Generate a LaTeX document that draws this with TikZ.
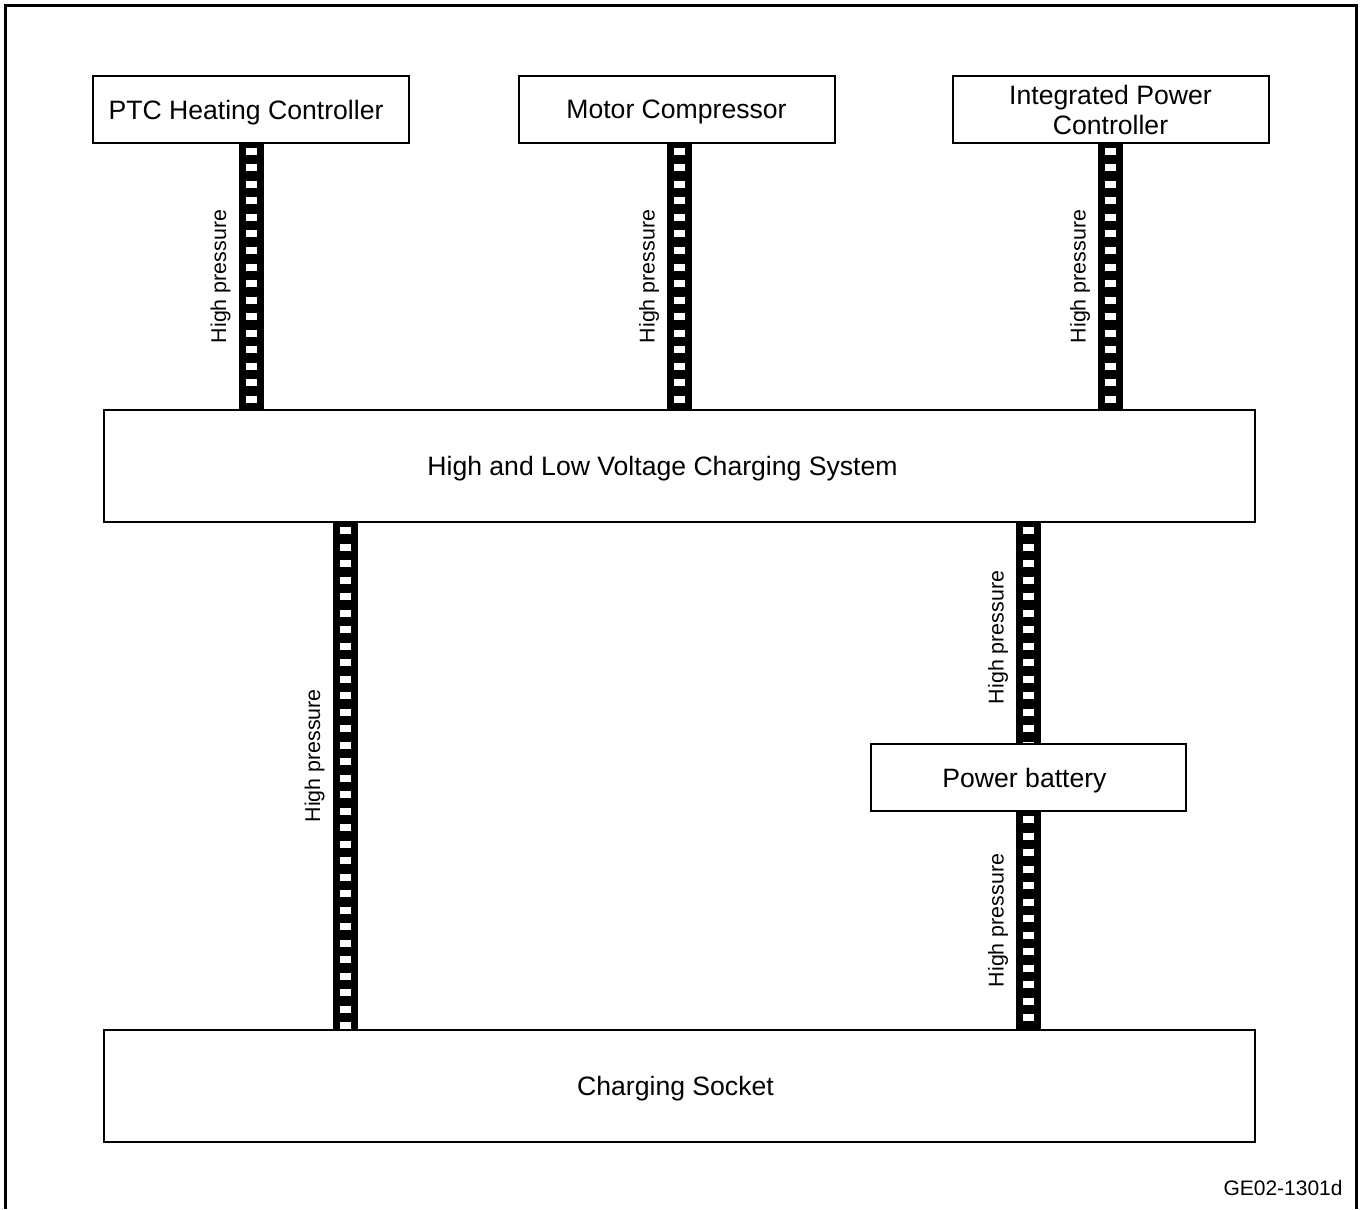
\documentclass[tikz,border=0pt]{standalone}
\usepackage{fontspec}
\setmainfont{Liberation Sans}
\usetikzlibrary{positioning,calc,backgrounds}

\begin{document}
\begin{tikzpicture}[x=0.5pt, y=-0.5pt,
        unit/.style={draw, line width=1pt, minimum width=158pt, minimum height=33.5pt, inner sep=0pt, text depth=0pt, align=center, font=\fontsize{13.3}{15}\selectfont},
        wideunit/.style={unit, minimum width=575.5pt, minimum height=56pt},
        hvline/.style={draw=white, line width=5.5pt, dash pattern=on 3.5pt off 4.75pt, dash phase=6.25pt, preaction={draw=black, line width=12.5pt, solid}},
        hvtag/.style={midway, rotate=90, anchor=south, yshift=7.5pt, inner sep=0pt, font=\fontsize{10.7}{12}\selectfont}]
        \useasboundingbox (0,0) rectangle (1364,1209);
        \draw[line width=1.5pt] (5.5,1209) |- (1356.5,6) -- (1356.5,1209);

        \node[unit] (ptc) at (251,109.5) {PTC Heating Controller\hspace*{5pt}};
        \node[unit] (motor) at (676.5,109.5) {Motor Compressor};
        \node[unit] (ipc) at (1110.5,109.5) {Integrated Power\\Controller};
        \node[wideunit] (hlv) at (679.5,466) {High and Low Voltage Charging System\hspace*{17pt}};
        \node[unit, minimum width=157.5pt] (battery) at (1028.5,777.5) {Power battery\hspace*{4pt}};
        \node[wideunit] (socket) at (679.5,1086) {Charging Socket\hspace*{4pt}};
        \node[anchor=east, inner sep=0pt, font=\fontsize{10.5}{12}\selectfont] (code) at (1343,1188) {GE02-1301d};

        \coordinate (tap) at ($(hlv.south west)+(242,0)$);
        \begin{scope}[on background layer]
        \draw[hvline] (ptc.south) -- (ptc.south |- hlv.north) node[hvtag] {High pressure};
        \draw[hvline] ($(motor.south)+(3,0)$) -- ($(motor.south |- hlv.north)+(3,0)$) node[hvtag] {High pressure};
        \draw[hvline] (ipc.south) -- (ipc.south |- hlv.north) node[hvtag] {High pressure};
        \draw[hvline] (tap) -- (tap |- socket.north) node[hvtag, pos=.46] {High pressure};
        \draw[hvline] (battery.north |- hlv.south) -- (battery.north) node[hvtag, pos=.52] {High pressure};
        \draw[hvline] (battery.south) -- (battery.south |- socket.north) node[hvtag] {High pressure};
        \end{scope}
    \end{tikzpicture}
\end{document}
